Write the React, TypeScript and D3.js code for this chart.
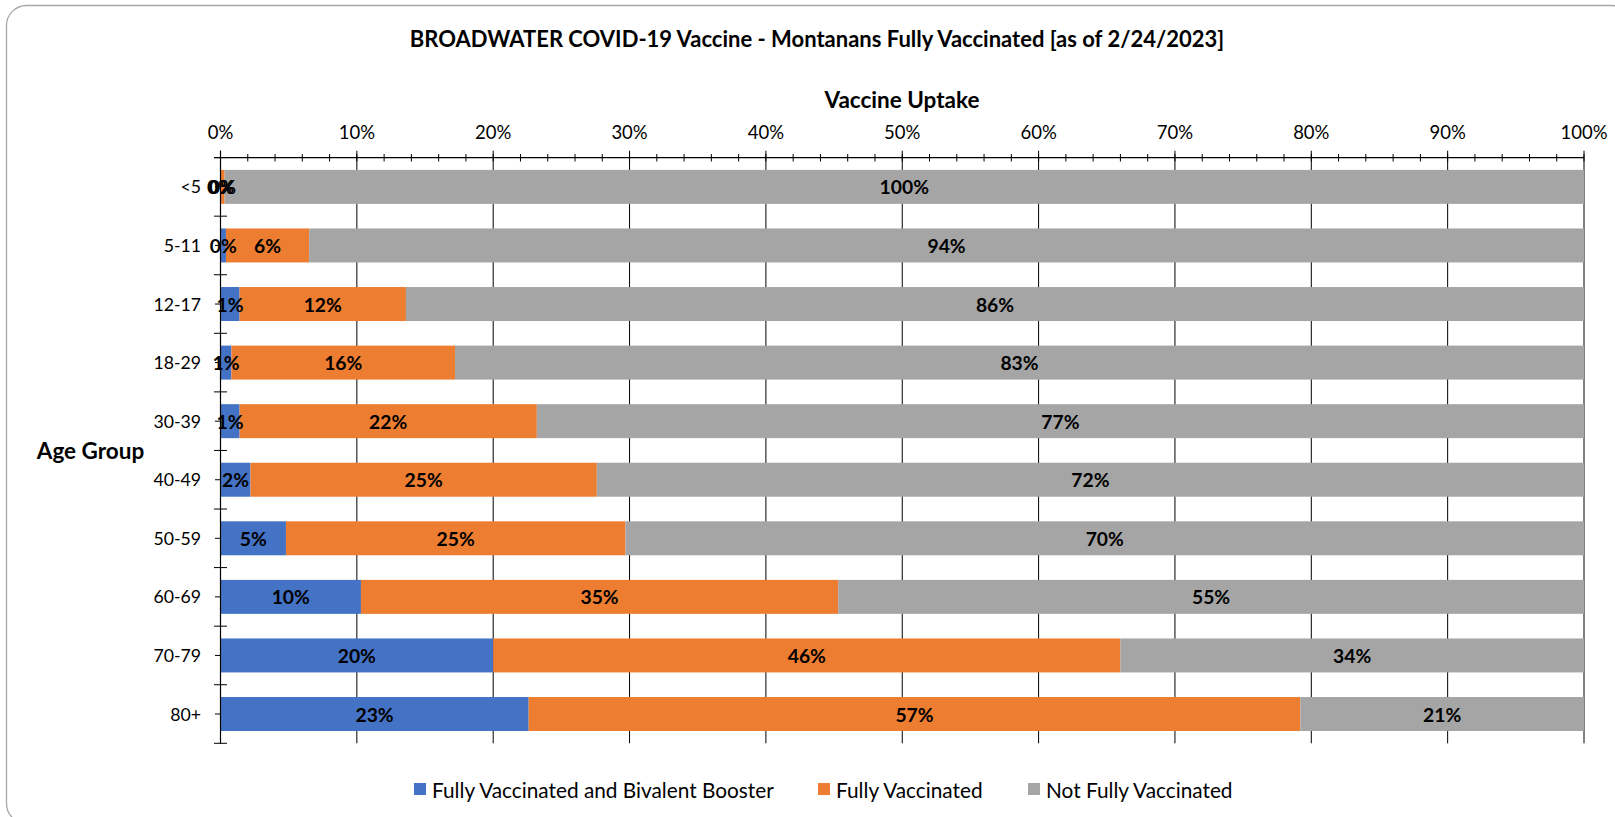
import React from "react";
import * as d3 from "d3";

const categories = ["<5", "5-11", "12-17", "18-29", "30-39", "40-49", "50-59", "60-69", "70-79", "80+"];
const boosterValues = [0.0, 0.4, 1.4, 0.8, 1.4, 2.2, 4.8, 10.3, 20.0, 22.6];
const fullyValues = [0.3, 6.1, 12.2, 16.4, 21.8, 25.4, 24.9, 35.0, 46.0, 56.6];
const notFullyValues = [99.7, 93.5, 86.4, 82.8, 76.8, 72.4, 70.3, 54.7, 34.0, 20.8];
const seriesNames = ["Fully Vaccinated and Bivalent Booster", "Fully Vaccinated", "Not Fully Vaccinated"];
const seriesColors = ["#4472C4", "#ED7D31", "#A5A5A5"];
const xTicks = [0, 10, 20, 30, 40, 50, 60, 70, 80, 90, 100];
const minorTicks = d3.range(0, 101, 2);

const titleText = "BROADWATER COVID-19 Vaccine - Montanans Fully Vaccinated [as of 2/24/2023]";
const xTitle = "Vaccine Uptake";
const yTitle = "Age Group";

const W = 1615;
const H = 817;
const FONT = "Lato, 'Open Sans', sans-serif";

export default function App() {
  const x = d3.scaleLinear().domain([0, 100]).range([220.5, 1584]);
  const y = d3.scaleBand<string>().domain(categories).range([157.6, 743.3]).paddingInner(0.42).paddingOuter(0.21);
  const step = y.step();
  const top = 157.6;
  const bottom = 743.3;

  const rows = categories.map((c, i) => ({ cat: c, vals: [boosterValues[i], fullyValues[i], notFullyValues[i]] }));
  const stack = d3.stack<any>().keys(["0", "1", "2"]).value((d: any, k: string) => d.vals[+k]);
  const stacked = stack(rows as any);

  const legendX = [414, 818, 1028];
  const legendY = 789;

  return (
    <svg width={W} height={H} style={{ position: "absolute", left: 0, top: 0, background: "#fff" }} fontFamily={FONT}>
      <rect x={6.5} y={5.5} width={1625} height={818} rx={20} ry={20} fill="#fff" stroke="#A6A6A6" strokeWidth={1.3} />
      <text x={817} y={38.5} textAnchor="middle" dominantBaseline="central" fontWeight="bold" fontSize={22} fill="#000">{titleText}</text>
      <text x={902} y={99.5} textAnchor="middle" dominantBaseline="central" fontWeight="bold" fontSize={22.5} fill="#000">{xTitle}</text>
      <text x={90.5} y={450.5} textAnchor="middle" dominantBaseline="central" fontWeight="bold" fontSize={22.5} fill="#000">{yTitle}</text>

      {/* gridlines */}
      {xTicks.map((t) => (
        <line key={"g" + t} x1={x(t)} x2={x(t)} y1={150.7} y2={bottom} stroke="#000" strokeWidth={1} />
      ))}
      {/* minor ticks */}
      {minorTicks.map((t) => (
        <line key={"m" + t} x1={x(t)} x2={x(t)} y1={154} y2={161.5} stroke="#000" strokeWidth={1} />
      ))}
      {/* x axis line */}
      <line x1={214} x2={x(100)} y1={top} y2={top} stroke="#000" strokeWidth={1.2} />
      {/* tick labels */}
      {xTicks.map((t) => (
        <text key={"t" + t} x={x(t)} y={132} textAnchor="middle" dominantBaseline="central" fontSize={18.5} fill="#000">{t + "%"}</text>
      ))}

      {/* bars */}
      {stacked.map((s, si) => (
        <g key={"s" + si} fill={seriesColors[si]}>
          {s.map((d: any, i: number) => (
            <rect key={i} x={x(d[0])} y={y(categories[i])} width={Math.max(0, x(d[1]) - x(d[0]))} height={y.bandwidth()} />
          ))}
        </g>
      ))}

      {/* y axis */}
      <line x1={x(0)} x2={x(0)} y1={150.7} y2={bottom} stroke="#000" strokeWidth={1.2} />
      {d3.range(categories.length + 1).map((i) => (
        <line key={"yt" + i} x1={214} x2={227} y1={top + i * step} y2={top + i * step} stroke="#000" strokeWidth={1} />
      ))}
      {categories.map((c) => (
        <line key={"yc" + c} x1={215} x2={x(0)} y1={(y(c) as number) + y.bandwidth() / 2} y2={(y(c) as number) + y.bandwidth() / 2} stroke="#000" strokeWidth={1} />
      ))}
      {categories.map((c) => (
        <text key={"yl" + c} x={201} y={(y(c) as number) + y.bandwidth() / 2} textAnchor="end" dominantBaseline="central" fontSize={17.7} fill="#000">{c}</text>
      ))}

      {/* data labels */}
      {stacked.map((s, si) => (
        <g key={"dl" + si}>
          {s.map((d: any, i: number) => (
            <text key={i} x={(x(d[0]) + x(d[1])) / 2} y={(y(categories[i]) as number) + y.bandwidth() / 2} textAnchor="middle" dominantBaseline="central" fontWeight="bold" fontSize={19.3} fill="#000">
              {Math.round(d[1] - d[0]) + "%"}
            </text>
          ))}
        </g>
      ))}

      {/* legend */}
      {seriesNames.map((n, i) => (
        <g key={"lg" + i}>
          <rect x={legendX[i]} y={legendY - 6} width={12} height={12} fill={seriesColors[i]} />
          <text x={legendX[i] + 18} y={legendY} dominantBaseline="central" fontSize={20.8} fill="#000">{n}</text>
        </g>
      ))}
    </svg>
  );
}
